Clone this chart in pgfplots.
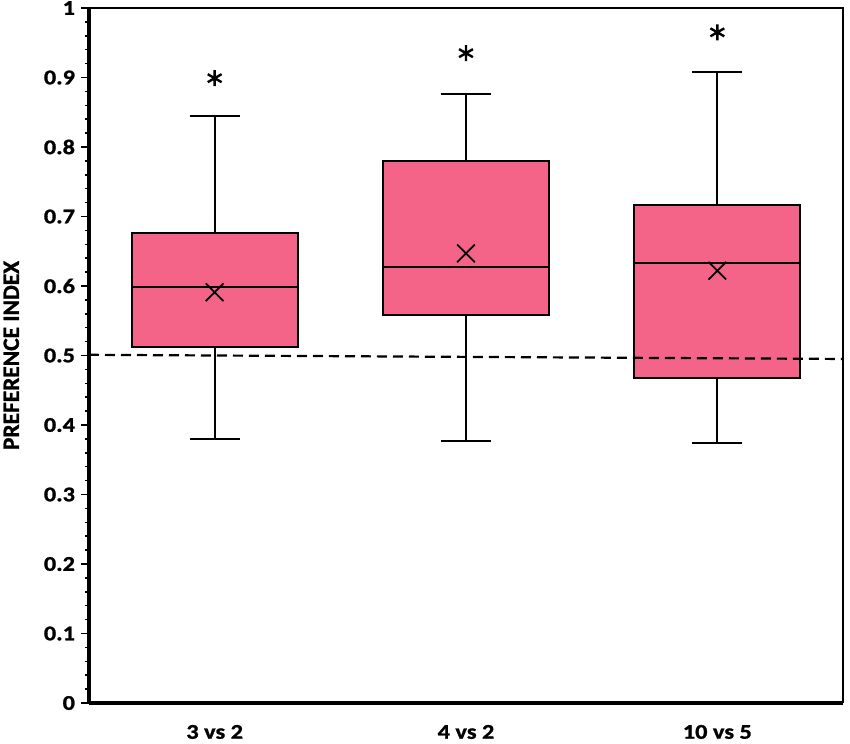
\documentclass[border=0pt]{standalone}
\usepackage{fontspec}
\setmainfont{Carlito}[BoldFeatures={FakeBold=1.2}]
\newfontfamily\tickfont{Carlito}[FakeStretch=1.16, BoldFeatures={FakeBold=1.2}]
\usepackage{pgfplots}
\pgfplotsset{compat=1.18}
\usepgfplotslibrary{statistics}
\definecolor{boxpink}{RGB}{244,100,136}
\begin{document}
\begin{tikzpicture}
\begin{axis}[
  scale only axis,
  width=754bp, height=695bp,
  xmin=-0.5, xmax=2.5,
  ymin=0, ymax=1,
  axis x line*=bottom,
  axis y line*=left,
  axis line style={line width=3.5bp, -},
  xtick={0,1,2},
  xticklabels={3 vs 2, 4 vs 2, 10 vs 5},
  x tick label style={font=\tickfont\fontsize{21}{24}\selectfont\bfseries, yshift=-11bp},
  major x tick style={draw=none},
  ytick={0,0.1,...,1.0},
  yticklabels={0,0.1,0.2,0.3,0.4,0.5,0.6,0.7,0.8,0.9,1},
  minor y tick num=4,
  y tick label style={font=\tickfont\fontsize{21}{24}\selectfont\bfseries, xshift=-3bp},
  /pgf/number format/assume math mode=true,
  tick align=outside,
  major tick length=7.5bp,
  minor tick length=4bp,
  every tick/.style={black, line width=1.5bp},
  ylabel={PREFERENCE INDEX},
  ylabel style={font=\fontsize{23.5}{26}\selectfont\bfseries, yshift=18bp},
  boxplot/draw direction=y,
  clip=false,
]
\addplot[draw=black, fill=boxpink, line width=1.8bp,
  boxplot prepared={draw position=0, lower whisker=0.380, lower quartile=0.512,
    median=0.599, upper quartile=0.676, upper whisker=0.845,
    box extend=0.66, whisker extend=0.2}] coordinates {};
\addplot[draw=black, fill=boxpink, line width=1.8bp,
  boxplot prepared={draw position=1, lower whisker=0.377, lower quartile=0.558,
    median=0.627, upper quartile=0.780, upper whisker=0.876,
    box extend=0.66, whisker extend=0.2}] coordinates {};
\addplot[draw=black, fill=boxpink, line width=1.8bp,
  boxplot prepared={draw position=2, lower whisker=0.374, lower quartile=0.468,
    median=0.633, upper quartile=0.717, upper whisker=0.908,
    box extend=0.66, whisker extend=0.2}] coordinates {};
% means
\addplot[only marks, mark=x, mark size=12.5bp, mark options={line width=1.8bp, draw=black}]
  coordinates {(0,0.591) (1,0.647) (2,0.622)};
% significance stars
\addplot[only marks, mark=asterisk, mark size=8bp, mark options={line width=2.4bp, draw=black}]
  coordinates {(0,0.899) (1,0.935) (2,0.965)};
% reference line
\addplot[black, line width=2.2bp, dash pattern=on 10bp off 6bp] coordinates {(-0.5,0.501) (2.5,0.495)};
\draw[black, line width=1.8bp] (rel axis cs:0,1) -- (rel axis cs:1,1) -- (rel axis cs:1,0);
\end{axis}
\pgfresetboundingbox
\path (current axis.south west) ++(-89bp,-41bp) coordinate (bbl);
\path (current axis.north east) ++(7bp,8bp) coordinate (bbr);
\path[use as bounding box] (bbl) rectangle (bbr);
\end{tikzpicture}
\end{document}
